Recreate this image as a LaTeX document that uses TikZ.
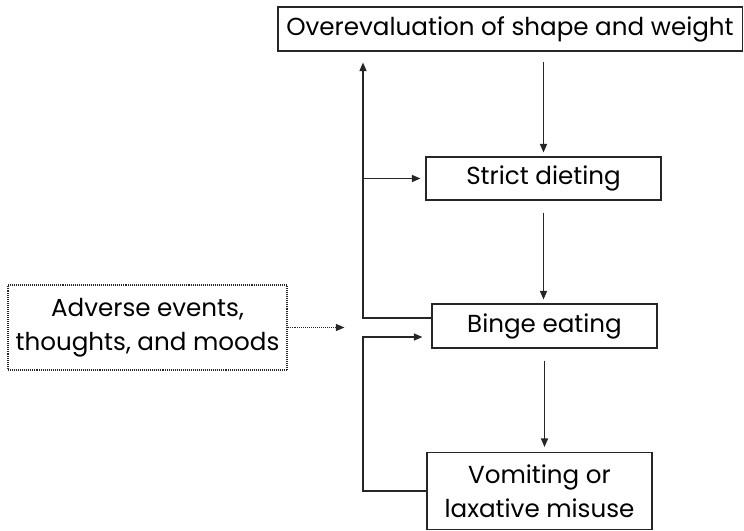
\documentclass[tikz,border=0pt]{standalone}
\usepackage{fontspec}
\setmainfont{Poppins}
\usetikzlibrary{arrows.meta,positioning}

\begin{document}
\begin{tikzpicture}[x=0.025cm, y=0.025cm,
        box/.style={rectangle, draw=black!85, line width=0.8pt, inner sep=0pt,
                    align=center, font=\fontsize{17.5}{24}\selectfont},
        dbox/.style={box, draw=black!85, dash pattern=on 0.7pt off 0.7pt},
        arr/.style={-{Triangle[length=6pt,width=5pt]}, line width=0.8pt, black!85},
        darr/.style={arr, dash pattern=on 0.7pt off 0.7pt}]
    \useasboundingbox (0,0) rectangle (744,-531);
    \node[box, minimum width=11.6cm, minimum height=1.1cm]    (top)     at (510,-29)    {Overevaluation of shape and weight};
    \node[box, minimum width=5.875cm, minimum height=1.075cm] (strict)  at (543.5,-178.5) {Strict dieting};
    \node[box, minimum width=5.625cm, minimum height=1.1cm]   (binge)   at (544.5,-326) {Binge eating};
    \node[box, minimum width=5.625cm, minimum height=1.925cm] (vomit)   at (539.5,-491) {Vomiting or\\laxative misuse};
    \node[dbox, minimum width=6.975cm, minimum height=2.125cm] (adverse) at (147.5,-327.5) {Adverse events,\\thoughts, and moods};
    \coordinate (spine) at (363,-29);
    % main chain
    \draw[arr, shorten <=0.25cm, shorten >=0.1cm] (strict.north |- top.south) -- (strict.north);
    \draw[arr, shorten <=0.3cm, shorten >=0.1cm] (strict.south) -- (strict.south |- binge.north);
    \draw[arr, shorten <=0.3cm, shorten >=0.125cm] (binge.south) -- (binge.south |- vomit.north);
    % loops back on the left
    \draw[arr, shorten >=0.275cm] ([yshift=0.2cm]binge.west) -| (spine |- top.south);
    \draw[arr, shorten >=0.125cm] (spine |- strict.west) -- (strict.west);
    \draw[arr, shorten >=0.225cm] (vomit.west) -- (spine |- vomit.west) |- ([yshift=-0.275cm]binge.west);
    \draw[darr, shorten >=2.175cm] (adverse.east) -- (adverse.east -| binge.west);
\end{tikzpicture}
\end{document}
